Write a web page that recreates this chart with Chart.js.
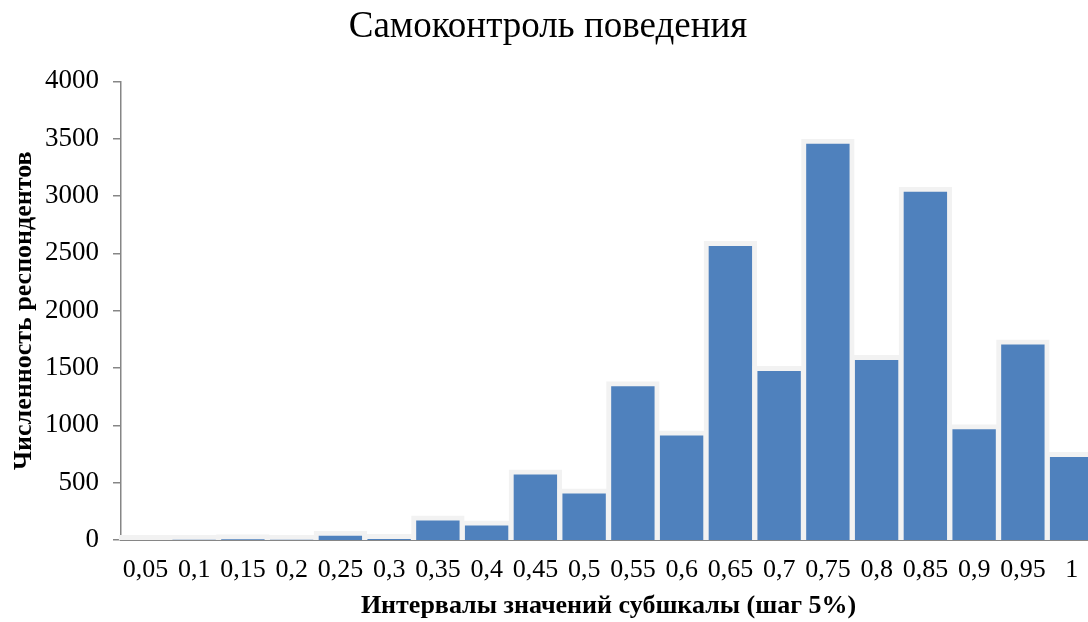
<!DOCTYPE html>
<html>
<head>
<meta charset="utf-8">
<script src="https://cdn.jsdelivr.net/npm/chart.js@4"></script>
<style>
  html, body { margin: 0; padding: 0; background: #fff; overflow: hidden; }
  #wrap { width: 1100px; height: 622px; }
</style>
</head>
<body>
<div id="wrap"><canvas id="chart"></canvas></div>
<script>
const intervals = ["0,05", "0,1", "0,15", "0,2", "0,25", "0,3", "0,35", "0,4", "0,45", "0,5",
  "0,55", "0,6", "0,65", "0,7", "0,75", "0,8", "0,85", "0,9", "0,95", "1"];
const respondents = [1, 2, 6, 3, 38, 8, 170, 127, 572, 406,
  1340, 912, 2565, 1475, 3457, 1571, 3038, 967, 1706, 723];
const yTicks = [0, 500, 1000, 1500, 2000, 2500, 3000, 3500, 4000];

const serif = "'Liberation Serif', 'Times New Roman', serif";
const axisGray = "#868686";

const createHistogram = (ctx) => {
  return new Chart(ctx, {
    type: "bar",
    data: {
      labels: intervals,
      datasets: [
        {
          data: respondents,
          // start bars a little under the axis so the grey rim never gets clamped
          base: -100,
          clip: { left: false, top: false, right: false, bottom: 0 },
          backgroundColor: "#4f81bd",
          borderColor: "#f2f2f2",
          borderWidth: 5,
          borderSkipped: "start",
          inflateAmount: 5,
          categoryPercentage: 1,
          barPercentage: 0.89,
        },
      ],
    },
    options: {
      responsive: true,
      maintainAspectRatio: false,
      animation: false,
      layout: {
        padding: { left: 0, right: 4, top: 0, bottom: 0 },
      },
      scales: {
        x: {
          z: 1,
          grid: { display: false },
          border: { display: true, color: axisGray, width: 2 },
          ticks: {
            color: "#000",
            font: { family: serif, size: 26 },
            autoSkip: false,
            maxRotation: 0,
            padding: 7,
          },
          title: {
            display: true,
            text: "Интервалы значений субшкалы (шаг 5%)",
            color: "#000",
            font: { family: serif, size: 26, weight: "bold" },
            padding: { top: 0, bottom: 0 },
          },
          afterFit: (scale) => {
            scale.height = 82;
          },
        },
        y: {
          min: 0,
          max: 4000,
          afterBuildTicks: (scale) => {
            scale.ticks = yTicks.map((v) => ({ value: v }));
          },
          grid: {
            drawOnChartArea: false,
            drawTicks: true,
            tickLength: 8,
            color: axisGray,
            lineWidth: 1.5,
          },
          border: { display: true, color: axisGray, width: 1.5 },
          ticks: {
            color: "#000",
            font: { family: serif, size: 27 },
            padding: 14,
            callback: (value) => String(value),
          },
          title: {
            display: true,
            text: "Численность респондентов",
            color: "#000",
            font: { family: serif, size: 26, weight: "bold" },
            padding: { top: 9, bottom: 0 },
          },
          afterFit: (scale) => {
            scale.width = 121;
          },
        },
      },
      plugins: {
        legend: { display: false },
        tooltip: { enabled: false },
        title: {
          display: true,
          text: "Самоконтроль поведения",
          color: "#000",
          font: { family: serif, size: 37, weight: "normal" },
          padding: { top: 5, bottom: 32 },
        },
      },
    },
  });
};

createHistogram(document.getElementById("chart"));
</script>
</body>
</html>
